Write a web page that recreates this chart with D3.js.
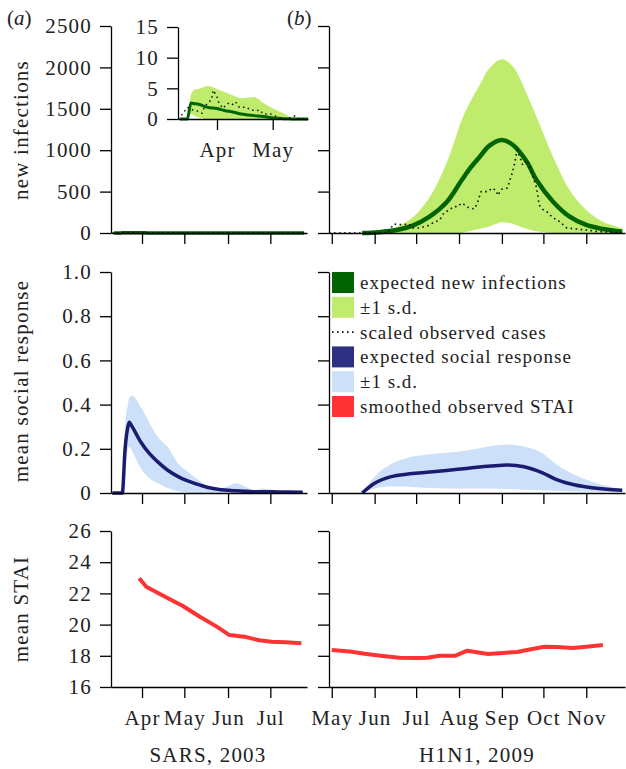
<!DOCTYPE html>
<html>
<head>
<meta charset="utf-8">
<script src="https://cdn.jsdelivr.net/npm/d3@7"></script>
<style>
  body { margin: 0; background: #fff; }
  svg text { font-family: 'Liberation Serif', 'Times New Roman', serif; fill: #222; }
</style>
</head>
<body>
<div id="chart"></div>
<script>
/* global d3 */

// ---- SARS 2003: expected new infections (inset scale) ----
const sarsInfDates = ['2003-03-12', '2003-03-16', '2003-03-18', '2003-03-20', '2003-03-22', '2003-03-27',
  '2003-04-01', '2003-04-05', '2003-04-10', '2003-04-14', '2003-04-18', '2003-04-21', '2003-04-26',
  '2003-05-02', '2003-05-07', '2003-05-11', '2003-05-16', '2003-05-20', '2003-06-15', '2003-07-25']
const sarsInfMean = [0, 0, 2.6, 2.5, 2.4, 1.9, 1.7, 1.4, 1.1, 0.8, 0.65, 0.55, 0.4, 0.15, 0.05, 0.02, 0, 0, 0, 0]
const sarsInfUpper = [0, 0, 4.0, 4.8, 4.9, 5.4, 4.9, 4.4, 3.8, 3.4, 3.5, 3.6, 2.6, 1.6, 0.9, 0.3, 0, 0, 0, 0]
const sarsInfLower = [0, 0, 0.8, 0.5, 0.25, 0, 0, 0, 0, 0, 0, 0, 0, 0, 0, 0, 0, 0, 0, 0]

// SARS scaled observed cases
const sarsObsDates = ['2003-03-11', '2003-03-13', '2003-03-16', '2003-03-19', '2003-03-21', '2003-03-24', '2003-03-25',
  '2003-03-27', '2003-03-29', '2003-03-30', '2003-04-01', '2003-04-02', '2003-04-04', '2003-04-07', '2003-04-09',
  '2003-04-11', '2003-04-13', '2003-04-17', '2003-04-19', '2003-04-22', '2003-04-24', '2003-04-26', '2003-04-30',
  '2003-05-03', '2003-05-06', '2003-05-09', '2003-05-13', '2003-05-15', '2003-05-20', '2003-07-25']
const sarsObs = [0, 0.65, 1.9, 1.47, 1.36, 0.93, 1.74, 2.66, 3.1, 4.7, 3.6, 2.66, 1.74, 2.55, 2.27,
  2.8, 1.9, 1.9, 1.47, 1.36, 1.47, 0.8, 0.8, 0.38, 0.05, 0, 0.5, 0, 0, 0]

// ---- H1N1 2009: expected new infections ----
const h1n1InfDates = ['2009-05-23', '2009-06-04', '2009-06-17', '2009-06-28', '2009-07-11', '2009-07-23',
  '2009-08-03', '2009-08-08', '2009-08-16', '2009-08-23', '2009-09-01', '2009-09-09', '2009-09-19',
  '2009-09-26', '2009-10-08', '2009-10-20', '2009-11-01', '2009-11-13', '2009-11-27']
const h1n1InfMean = [0, 10, 36, 85, 200, 370, 640, 760, 920, 1055, 1123, 1063, 861, 640, 378, 197, 97, 48, 16]
const h1n1InfUpper = [0, 15, 76, 181, 439, 845, 1365, 1550, 1790, 1990, 2098, 2010, 1680, 1405, 922, 519, 278, 137, 60]
const h1n1InfLower = [0, 0, 0, 0, 0, 0, 0, 20, 50, 80, 130, 110, 50, 20, 0, 0, 0, 0, 0]

// H1N1 scaled observed cases
const h1n1ObsDates = ['2009-04-29', '2009-06-10', '2009-06-15', '2009-06-21', '2009-06-26', '2009-06-28', '2009-07-03',
  '2009-07-09', '2009-07-13', '2009-07-18', '2009-07-21', '2009-07-25', '2009-07-28', '2009-07-31', '2009-08-03',
  '2009-08-08', '2009-08-12', '2009-08-14', '2009-08-17', '2009-08-22', '2009-08-25', '2009-08-28', '2009-08-29',
  '2009-09-01', '2009-09-05', '2009-09-08', '2009-09-10', '2009-09-12', '2009-09-14', '2009-09-16', '2009-09-19',
  '2009-09-21', '2009-09-23', '2009-09-25', '2009-09-26', '2009-09-28', '2009-09-30', '2009-10-04', '2009-10-08',
  '2009-10-11', '2009-10-18', '2009-10-25', '2009-11-01', '2009-11-08', '2009-11-17', '2009-11-27']
const h1n1Obs = [0, 0, 108, 100, 108, 60, 60, 85, 121, 157, 241, 278, 318, 318, 362,
  306, 290, 350, 500, 500, 543, 510, 454, 530, 543, 700, 821, 1002, 920, 821, 880,
  800, 700, 600, 550, 338, 290, 250, 181, 160, 60, 48, 36, 20, 10, 0]

// ---- mean social response ----
const sarsRespDates = ['2003-03-11', '2003-03-18', '2003-03-20', '2003-03-22', '2003-03-23', '2003-03-25', '2003-03-31',
  '2003-04-06', '2003-04-12', '2003-04-19', '2003-04-27', '2003-05-02', '2003-05-09', '2003-05-17', '2003-05-27',
  '2003-06-01', '2003-06-07', '2003-06-14', '2003-06-21', '2003-06-25', '2003-07-06', '2003-07-24']
const sarsRespMean = [0, 0, 0.2, 0.3, 0.32, 0.3, 0.232, 0.18, 0.142, 0.104, 0.073, 0.058, 0.042, 0.026, 0.015,
  0.012, 0.01, 0.008, 0.006, 0.006, 0.005, 0.003]
const sarsRespUpper = [0, 0, 0.3, 0.4, 0.43, 0.44, 0.39, 0.32, 0.255, 0.21, 0.13, 0.104, 0.068, 0.036, 0.022,
  0.03, 0.044, 0.026, 0.01, 0.02, 0.01, 0.005]
const sarsRespLower = [0, 0, 0.1, 0.2, 0.21, 0.19, 0.113, 0.068, 0.045, 0.023, 0.008, 0.003, 0, 0, 0,
  0, 0, 0, 0, 0, 0, 0]

const h1n1RespDates = ['2009-05-23', '2009-06-01', '2009-06-13', '2009-06-25', '2009-07-07', '2009-07-19', '2009-07-31',
  '2009-08-12', '2009-08-24', '2009-09-05', '2009-09-17', '2009-09-30', '2009-10-11', '2009-10-24', '2009-11-05',
  '2009-11-16', '2009-11-27']
const h1n1RespMean = [0, 0.044, 0.074, 0.086, 0.093, 0.1, 0.107, 0.115, 0.122, 0.127, 0.119, 0.092, 0.059, 0.036, 0.024, 0.017, 0.013]
const h1n1RespUpper = [0, 0.075, 0.131, 0.16, 0.172, 0.18, 0.187, 0.198, 0.213, 0.22, 0.21, 0.18, 0.127, 0.081, 0.051, 0.032, 0.017]
const h1n1RespLower = [0, 0.02, 0.029, 0.028, 0.024, 0.022, 0.02, 0.02, 0.02, 0.018, 0.015, 0.012, 0.009, 0.007, 0.006, 0.005, 0.005]

// ---- smoothed observed STAI ----
const sarsStaiDates = ['2003-03-30', '2003-04-04', '2003-04-18', '2003-04-30', '2003-05-12', '2003-05-24', '2003-06-02',
  '2003-06-08', '2003-06-14', '2003-06-23', '2003-07-02', '2003-07-12', '2003-07-23']
const sarsStai = [22.97, 22.43, 21.75, 21.19, 20.5, 19.87, 19.33, 19.27, 19.2, 19.0, 18.9, 18.87, 18.8]

const h1n1StaiDates = ['2009-05-01', '2009-05-14', '2009-05-26', '2009-06-07', '2009-06-19', '2009-07-02', '2009-07-09',
  '2009-07-18', '2009-07-29', '2009-08-07', '2009-08-22', '2009-08-30', '2009-09-12', '2009-09-21', '2009-10-02',
  '2009-10-11', '2009-10-22', '2009-11-01', '2009-11-13']
const h1n1Stai = [18.37, 18.27, 18.12, 17.99, 17.88, 17.86, 17.88, 18.0, 18.0, 18.33, 18.12, 18.17, 18.24, 18.4, 18.58,
  18.56, 18.5, 18.58, 18.69]

// ---- axis ticks and legend ----
const infTicks = [0, 500, 1000, 1500, 2000, 2500]
const insetTicks = [0, 5, 10, 15]
const respTicks = [0, 0.2, 0.4, 0.6, 0.8, 1.0]
const staiTicks = [16, 18, 20, 22, 24, 26]
const legendLabels = ['expected new infections', '±1 s.d.', 'scaled observed cases',
  'expected social response', '±1 s.d.', 'smoothed observed STAI']
const legendKinds = ['box', 'box', 'dots', 'box', 'box', 'box']

const C = {
  green: '#006400', lightGreen: '#c0ec6e', navy: '#1b1b6f', lightBlue: '#cce0fa', red: '#ff3333'
}
const parse = d3.timeParse('%Y-%m-%d')
const rows = (dates, ...cols) => dates.map((d, i) => ({ date: parse(d), v: cols.map((c) => c[i]) }))
const SMOOTH = d3.curveCatmullRom.alpha(0.5)

const svg = d3.select('#chart').append('svg')
  .attr('width', 626).attr('height', 769)

// scales
const xA = d3.scaleTime().domain([parse('2003-03-10'), parse('2003-07-27')]).range([111, 307])
const xB = d3.scaleTime().domain([parse('2009-04-29'), parse('2009-11-29')]).range([329, 625])
const xIn = d3.scaleTime().domain([parse('2003-03-11'), parse('2003-05-20')]).range([178, 308])
const yInf = d3.scaleLinear().domain([0, 2500]).range([233, 26])
const yIn = d3.scaleLinear().domain([0, 15]).range([119, 27])
const yResp = d3.scaleLinear().domain([0, 1]).range([493, 272])
const yStai = d3.scaleLinear().domain([16, 26]).range([687, 531])

function styleAxis(g, fontSize) {
  g.select('.domain').attr('stroke', '#000').attr('stroke-width', 1.3)
  g.selectAll('.tick line').attr('stroke', '#000').attr('stroke-width', 1.3)
  g.selectAll('.tick text')
    .style('font-size', fontSize + 'px')
    .style('letter-spacing', '1.2px')
    .attr('fill', '#222')
  g.attr('font-family', null)
}

function yAxis(scale, ticks, x, labels, fmt) {
  const ax = d3.axisLeft(scale).tickValues(ticks).tickSize(11).tickSizeOuter(0).tickPadding(8)
  ax.tickFormat(labels ? (fmt || d3.format('d')) : '')
  svg.append('g').attr('transform', `translate(${x},0)`).call(ax).call(styleAxis, 21)
}

function xAxis(scale, y, labels) {
  const ax = d3.axisBottom(scale).ticks(d3.timeMonth.every(1)).tickSize(11).tickSizeOuter(0).tickPadding(12)
  ax.tickFormat(labels ? d3.timeFormat('%b') : '')
  svg.append('g').attr('transform', `translate(0,${y})`).call(ax).call(styleAxis, 21)
}

function band(g, data, xs, ys, color, curve) {
  g.append('path').datum(data)
    .attr('fill', color)
    .attr('d', d3.area().curve(curve || d3.curveMonotoneX)
      .x((d) => xs(d.date)).y0((d) => ys(d.v[2])).y1((d) => ys(d.v[1])))
}

function line(g, data, xs, ys, color, width, curve, dash) {
  g.append('path').datum(data)
    .attr('fill', 'none')
    .attr('stroke', color)
    .attr('stroke-width', width)
    .attr('stroke-dasharray', dash || null)
    .attr('stroke-linejoin', 'round')
    .attr('d', d3.line().curve(curve || d3.curveMonotoneX).x((d) => xs(d.date)).y((d) => ys(d.v[0])))
}

const DOTS = '1.6,3.4'
const plots = svg.append('g')

// top row: new infections
const sarsInf = rows(sarsInfDates, sarsInfMean, sarsInfUpper, sarsInfLower)
const sarsObsRows = rows(sarsObsDates, sarsObs)
line(plots, sarsInf, xA, yInf, C.green, 3.5)
line(plots, sarsObsRows, xA, yInf, '#111', 1.6, d3.curveLinear, DOTS)

const h1n1Inf = rows(h1n1InfDates, h1n1InfMean, h1n1InfUpper, h1n1InfLower)
band(plots, h1n1Inf, xB, yInf, C.lightGreen, SMOOTH)
line(plots, h1n1Inf, xB, yInf, C.green, 4.5, SMOOTH)
line(plots, rows(h1n1ObsDates, h1n1Obs), xB, yInf, '#111', 1.6, d3.curveLinear, DOTS)

// inset for SARS
svg.append('clipPath').attr('id', 'insetClip')
  .append('rect').attr('x', 178).attr('y', 0).attr('width', 130).attr('height', 130)
const inset = svg.append('g').attr('clip-path', 'url(#insetClip)')
band(inset, sarsInf, xIn, yIn, C.lightGreen)
line(inset, sarsInf, xIn, yIn, C.green, 3)
line(inset, sarsObsRows, xIn, yIn, '#111', 1.5, d3.curveLinear, '1.5,3.5')

// middle row: social response
const sarsResp = rows(sarsRespDates, sarsRespMean, sarsRespUpper, sarsRespLower)
band(plots, sarsResp, xA, yResp, C.lightBlue)
line(plots, sarsResp, xA, yResp, C.navy, 3.5)
const h1n1Resp = rows(h1n1RespDates, h1n1RespMean, h1n1RespUpper, h1n1RespLower)
band(plots, h1n1Resp, xB, yResp, C.lightBlue)
line(plots, h1n1Resp, xB, yResp, C.navy, 3.5)

// bottom row: STAI
line(plots, rows(sarsStaiDates, sarsStai), xA, yStai, C.red, 4, d3.curveLinear)
line(plots, rows(h1n1StaiDates, h1n1Stai), xB, yStai, C.red, 4, d3.curveLinear)

// axes
yAxis(yInf, infTicks, 111, true)
yAxis(yInf, infTicks, 329, false)
yAxis(yIn, insetTicks, 178, true)
yAxis(yResp, respTicks, 111, true, (d) => d === 0 ? '0' : d3.format('.1f')(d))
yAxis(yResp, respTicks, 329, false)
yAxis(yStai, staiTicks, 111, true)
yAxis(yStai, staiTicks, 329, false)

xAxis(xA, 233, false)
xAxis(xB, 233, false)
xAxis(xIn, 119, true)
xAxis(xA, 493, false)
xAxis(xB, 493, false)
xAxis(xA, 687, true)
xAxis(xB, 687, true)

// axis titles
const titles = [['new infections', 130], ['mean social response', 381], ['mean STAI', 609]]
titles.forEach(([t, y]) => {
  svg.append('text')
    .attr('transform', `translate(28,${y}) rotate(-90)`)
    .attr('text-anchor', 'middle')
    .style('font-size', '21px').style('letter-spacing', '1.2px')
    .text(t)
})
svg.append('text').attr('x', 208).attr('y', 762).attr('text-anchor', 'middle')
  .style('font-size', '21px').style('letter-spacing', '1.2px').text('SARS, 2003')
svg.append('text').attr('x', 477).attr('y', 762).attr('text-anchor', 'middle')
  .style('font-size', '21px').style('letter-spacing', '1.2px').text('H1N1, 2009')

// panel letters
const panelLabel = (x, letter) => {
  const t = svg.append('text').attr('x', x).attr('y', 25).style('font-size', '21px')
  t.append('tspan').text('(')
  t.append('tspan').style('font-style', 'italic').text(letter)
  t.append('tspan').text(')')
}
panelLabel(7, 'a')
panelLabel(287, 'b')

// legend
const legendColors = [C.green, C.lightGreen, '#111', '#2e3182', C.lightBlue, C.red]
const legend = svg.append('g')
legendLabels.forEach((label, i) => {
  const cy = 282.5 + i * 24.8
  if (legendKinds[i] === 'dots') {
    legend.append('line').attr('x1', 332).attr('x2', 354).attr('y1', cy).attr('y2', cy)
      .attr('stroke', legendColors[i]).attr('stroke-width', 1.6).attr('stroke-dasharray', DOTS)
  } else {
    legend.append('rect').attr('x', 332).attr('y', cy - 10.5).attr('width', 22).attr('height', 21)
      .attr('fill', legendColors[i])
  }
  legend.append('text').attr('x', 360).attr('y', cy + 6.5)
    .style('font-size', '19px').style('letter-spacing', '1px')
    .text(label)
})
</script>
</body>
</html>
